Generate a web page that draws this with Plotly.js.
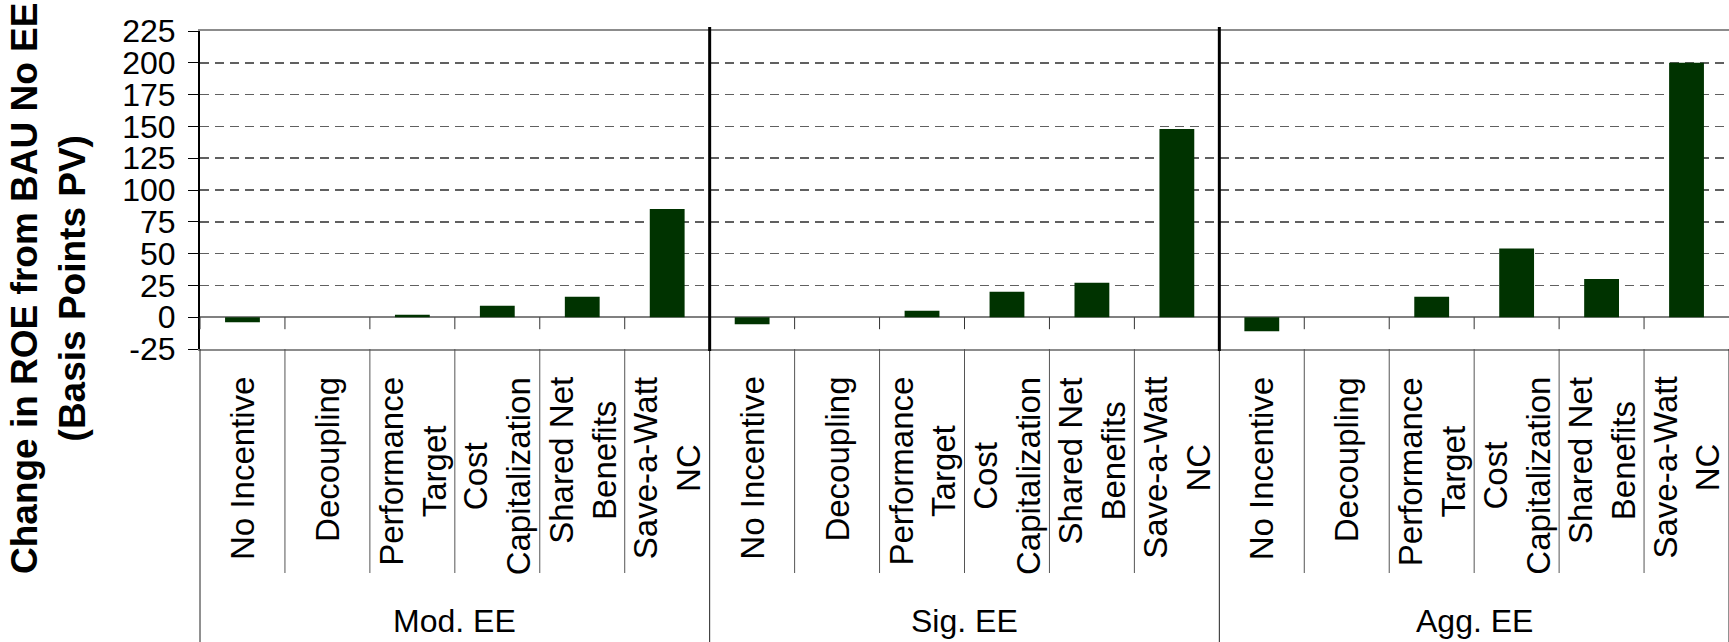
<!DOCTYPE html>
<html>
<head>
<meta charset="utf-8">
<script src="https://cdn.plot.ly/plotly-3.0.1.min.js"></script>
<style>html,body{margin:0;padding:0;background:#fff;}#chart{width:1729px;height:642px;}</style>
</head>
<body>
<div id="chart"></div>
<script>
// ---- data ----
const groups = ["Mod. EE", "Sig. EE", "Agg. EE"];
const categories = ["No Incentive", "Decoupling", "Performance<br>Target", "Cost<br>Capitalization", "Shared Net<br>Benefits", "Save-a-Watt<br>NC"];
const modEE = [-4, 0, 2, 9, 16, 85];
const sigEE = [-5.5, 0, 5, 20, 27, 148];
const aggEE = [-11, 0, 16, 54, 30, 200];
const yTicks = [-25, 0, 25, 50, 75, 100, 125, 150, 175, 200, 225];
const yTitle = "Change in ROE from BAU No EE<br>(Basis Points PV)";

// ---- build ----
const FONT = "'Liberation Sans', Arial, sans-serif";
const series = [modEE, sigEE, aggEE];
const keys = [], vals = [];
groups.forEach((g, gi) => {
  categories.forEach((c, ci) => {
    keys.push(g + " | " + c.replace("<br>", " "));
    vals.push(series[gi][ci]);
  });
});
const N = keys.length;
const nc = categories.length;

// pixel geometry helpers
const H = 642, mt = 31, mb = 293;
const plotH = H - mt - mb;
const py = px => (H - mb - px) / plotH; // pixel y (page) -> paper y
const bx = i => (i + 1) / N;            // boundary after category i -> paper x

const shapes = [];
// small ticks at zero line at category boundaries
const y0p = (0 - yTicks[0]) / (yTicks[yTicks.length - 1] - yTicks[0]);
for (let i = -1; i < N - 1; i++) {
  shapes.push({type: 'line', xref: 'paper', yref: 'paper', x0: bx(i), x1: bx(i),
    y0: y0p, y1: y0p - 12 / plotH, line: {color: '#333', width: 1}});
}
// category boundary lines in label area
for (let i = -1; i < N; i++) {
  const isGroup = ((i + 1) % nc === 0);
  shapes.push({type: 'line', xref: 'paper', yref: 'paper', x0: bx(i), x1: bx(i),
    y0: 0, y1: isGroup ? py(642) : py(573), line: {color: isGroup ? '#222' : '#555', width: 1}});
}
// thick separators between groups in plot area
for (let g = 1; g < groups.length; g++) {
  const i = g * nc - 1;
  shapes.push({type: 'line', xref: 'paper', yref: 'paper', x0: bx(i), x1: bx(i),
    y0: py(351), y1: py(27), line: {color: '#000', width: 3}});
}

const annotations = [];
keys.forEach((k, i) => {
  annotations.push({xref: 'x', yref: 'paper', x: k, y: 0, yshift: -26,
    xanchor: 'center', yanchor: 'top', textangle: -90, align: 'center',
    showarrow: false, text: categories[i % nc],
    font: {family: FONT, size: 33, color: '#000'}});
});
groups.forEach((g, gi) => {
  annotations.push({xref: 'x', yref: 'paper', x: gi * nc + (nc - 1) / 2, y: 0, yshift: -272,
    xanchor: 'center', yanchor: 'middle', showarrow: false, text: g,
    font: {family: FONT, size: 32, color: '#000'}});
});
annotations.push({xref: 'paper', yref: 'paper', x: 0, xshift: -152, y: py(289),
  xanchor: 'center', yanchor: 'middle', textangle: -90, align: 'center',
  showarrow: false, text: yTitle,
  font: {family: FONT, size: 37, color: '#000', weight: 'bold'}});

const data = [{
  type: 'bar', x: keys, y: vals,
  marker: {color: '#003300', line: {width: 0}},
  hoverinfo: 'x+y'
}];

const layout = {
  width: 1729, height: 642,
  margin: {l: 200, r: 0, t: mt, b: mb, pad: 0},
  paper_bgcolor: '#fff', plot_bgcolor: '#fff',
  showlegend: false,
  bargap: 0.59,
  font: {family: FONT, size: 32, color: '#000'},
  xaxis: {
    type: 'category', range: [-0.5, N - 0.5],
    showticklabels: false, ticks: '', showgrid: false, zeroline: false,
    showline: true, mirror: true, linecolor: '#8c8c8c', linewidth: 2,
    fixedrange: true
  },
  yaxis: {
    range: [yTicks[0], yTicks[yTicks.length - 1]],
    tickvals: yTicks, ticktext: yTicks.map(String),
    ticks: 'outside', ticklen: 10, tickcolor: '#000', tickwidth: 1,
    ticklabelstandoff: 6,
    tickfont: {family: FONT, size: 32, color: '#000'},
    showline: true, linecolor: '#000', linewidth: 2,
    showgrid: true, gridcolor: '#606060', gridwidth: 1.5, griddash: '9px,6px',
    zeroline: true, zerolinecolor: '#808080', zerolinewidth: 2,
    fixedrange: true
  },
  shapes: shapes,
  annotations: annotations
};

Plotly.newPlot('chart', data, layout, {displayModeBar: false, staticPlot: true});
</script>
</body>
</html>
